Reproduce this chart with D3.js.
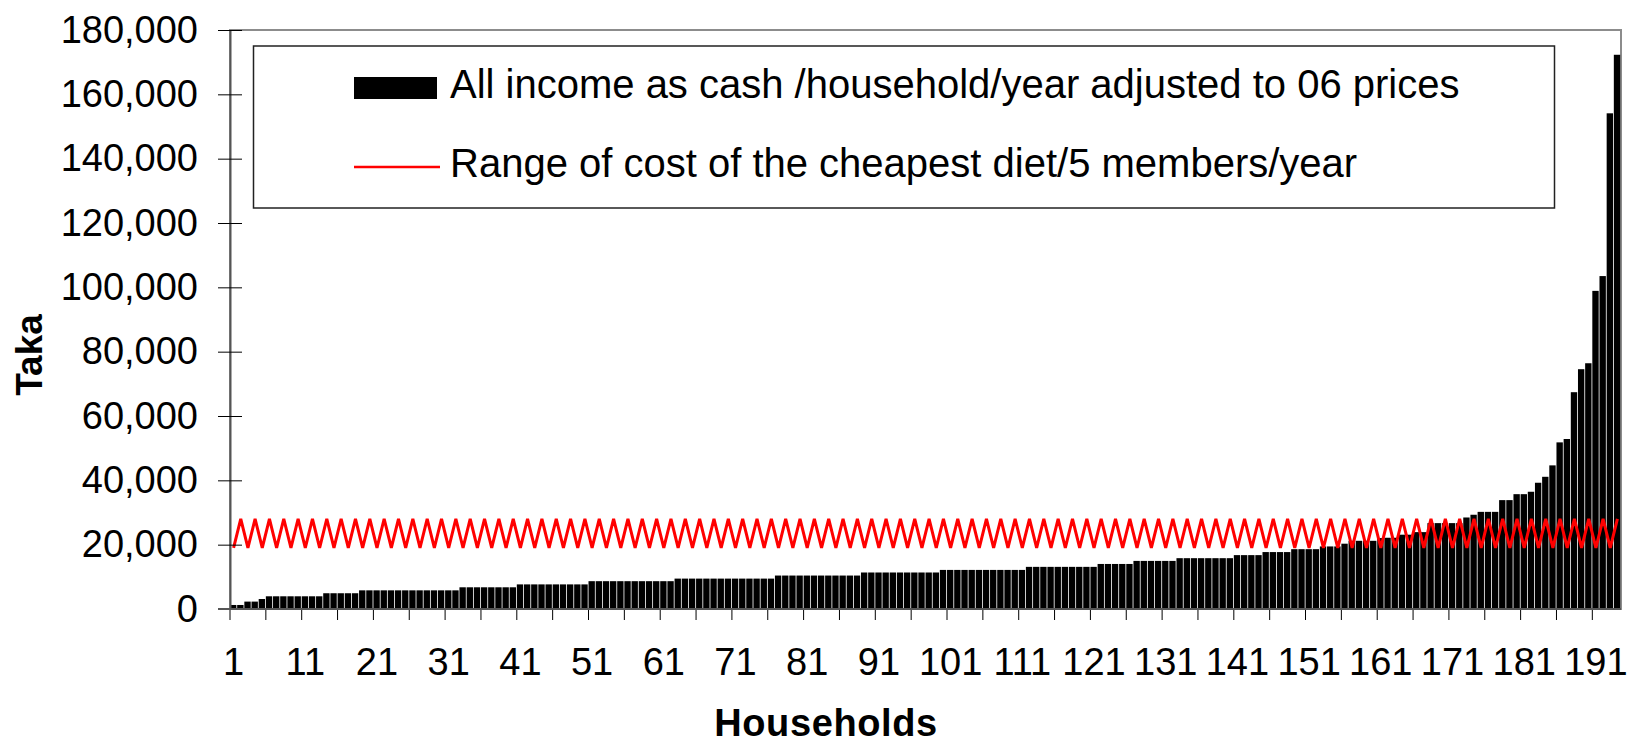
<!DOCTYPE html>
<html>
<head>
<meta charset="utf-8">
<script src="https://cdn.jsdelivr.net/npm/d3@7"></script>
<style>
  html, body { margin: 0; padding: 0; background: #fff; }
  svg { display: block; font-family: "Liberation Sans", Arial, sans-serif; }
</style>
</head>
<body>
<div id="chart"></div>
<script>
// income per household, sorted (Taka, adjusted to 06 prices)
const income = [
    1250, 1250, 2300, 2300, 3100, 3950, 3950, 3950, 3950, 3950,
    3950, 3950, 3950, 4900, 4900, 4900, 4900, 4900, 5800, 5800,
    5800, 5800, 5800, 5800, 5800, 5800, 5800, 5800, 5800, 5800,
    5800, 5800, 6750, 6750, 6750, 6750, 6750, 6750, 6750, 6750,
    7650, 7650, 7650, 7650, 7650, 7650, 7650, 7650, 7650, 7650,
    8650, 8650, 8650, 8650, 8650, 8650, 8650, 8650, 8650, 8650,
    8650, 8650, 9450, 9450, 9450, 9450, 9450, 9450, 9450, 9450,
    9450, 9450, 9450, 9450, 9450, 9450, 10400, 10400, 10400, 10400,
    10400, 10400, 10400, 10400, 10400, 10400, 10400, 10400, 11350, 11350,
    11350, 11350, 11350, 11350, 11350, 11350, 11350, 11350, 11350, 12150,
    12150, 12150, 12150, 12150, 12150, 12150, 12150, 12150, 12150, 12150,
    12150, 13100, 13100, 13100, 13100, 13100, 13100, 13100, 13100, 13100,
    13100, 14000, 14000, 14000, 14000, 14000, 14950, 14950, 14950, 14950,
    14950, 14950, 15800, 15800, 15800, 15800, 15800, 15800, 15800, 15800,
    16750, 16750, 16750, 16750, 17700, 17700, 17700, 17700, 18600, 18600,
    18600, 18600, 19450, 19450, 19450, 20300, 21200, 21200, 21200, 21200,
    22050, 22150, 22150, 23100, 23100, 23900, 23900, 26700, 26700, 26700,
    26700, 26700, 28450, 29300, 30200, 30200, 30200, 33850, 33850, 35700,
    35700, 36450, 39250, 41100, 44650, 51800, 52850, 67400, 74550, 76400,
    98900, 103500, 154100, 172300
];

// cheapest diet cost for 5 members/year, low and high ends of the range
const dietCost = [
    19000, 28000, 19000, 28000, 19000, 28000, 19000, 28000, 19000, 28000,
    19000, 28000, 19000, 28000, 19000, 28000, 19000, 28000, 19000, 28000,
    19000, 28000, 19000, 28000, 19000, 28000, 19000, 28000, 19000, 28000,
    19000, 28000, 19000, 28000, 19000, 28000, 19000, 28000, 19000, 28000,
    19000, 28000, 19000, 28000, 19000, 28000, 19000, 28000, 19000, 28000,
    19000, 28000, 19000, 28000, 19000, 28000, 19000, 28000, 19000, 28000,
    19000, 28000, 19000, 28000, 19000, 28000, 19000, 28000, 19000, 28000,
    19000, 28000, 19000, 28000, 19000, 28000, 19000, 28000, 19000, 28000,
    19000, 28000, 19000, 28000, 19000, 28000, 19000, 28000, 19000, 28000,
    19000, 28000, 19000, 28000, 19000, 28000, 19000, 28000, 19000, 28000,
    19000, 28000, 19000, 28000, 19000, 28000, 19000, 28000, 19000, 28000,
    19000, 28000, 19000, 28000, 19000, 28000, 19000, 28000, 19000, 28000,
    19000, 28000, 19000, 28000, 19000, 28000, 19000, 28000, 19000, 28000,
    19000, 28000, 19000, 28000, 19000, 28000, 19000, 28000, 19000, 28000,
    19000, 28000, 19000, 28000, 19000, 28000, 19000, 28000, 19000, 28000,
    19000, 28000, 19000, 28000, 19000, 28000, 19000, 28000, 19000, 28000,
    19000, 28000, 19000, 28000, 19000, 28000, 19000, 28000, 19000, 28000,
    19000, 28000, 19000, 28000, 19000, 28000, 19000, 28000, 19000, 28000,
    19000, 28000, 19000, 28000, 19000, 28000, 19000, 28000, 19000, 28000,
    19000, 28000, 19000, 28000
];

const yTicks = [0, 20000, 40000, 60000, 80000, 100000, 120000, 140000, 160000, 180000];
const xLabels = [1, 11, 21, 31, 41, 51, 61, 71, 81, 91, 101, 111, 121, 131, 141, 151, 161, 171, 181, 191];

const legendItems = [
    'All income as cash /household/year adjusted to 06 prices',
    'Range of cost of the cheapest diet/5 members/year'
];

const width = 1635;
const height = 746;
const plot = { left: 230, right: 1621, top: 30, bottom: 609 };

const households = income.map((d, i) => i + 1);

const xScale = d3.scaleBand()
    .domain(households)
    .range([plot.left, plot.right])
    .padding(0);
const yScale = d3.scaleLinear()
    .domain([0, 180000])
    .range([plot.bottom, plot.top]);

const svg = d3.select('#chart')
    .append('svg')
    .attr('width', width)
    .attr('height', height)
    .attr('viewBox', `0 0 ${width} ${height}`);

// plot frame (gray border on top / right)
svg.append('rect')
    .attr('x', plot.left)
    .attr('y', plot.top)
    .attr('width', plot.right - plot.left)
    .attr('height', plot.bottom - plot.top)
    .attr('fill', 'none')
    .attr('stroke', '#8c8c8c')
    .attr('stroke-width', 2);

// bars
svg.append('g')
    .attr('class', 'bars')
    .selectAll('rect')
    .data(income)
    .join('rect')
    .attr('x', (d, i) => xScale(households[i]))
    .attr('y', (d) => yScale(d))
    .attr('width', xScale.bandwidth() - 0.8)
    .attr('height', (d) => yScale(0) - yScale(d))
    .attr('fill', '#000');

// diet cost zigzag
const line = d3.line()
    .x((d, i) => xScale(households[i]) + xScale.bandwidth() / 2)
    .y((d) => yScale(d));
svg.append('path')
    .datum(dietCost)
    .attr('d', line)
    .attr('fill', 'none')
    .attr('stroke', '#ff0000')
    .attr('stroke-width', 3)
    .attr('stroke-linejoin', 'miter');

// Y axis, ticks crossing the axis line
const yAxis = d3.axisLeft(yScale)
    .tickValues(yTicks)
    .tickSizeInner(12)
    .tickSizeOuter(0)
    .tickPadding(20)
    .tickFormat(d3.format(','));
const yG = svg.append('g')
    .attr('transform', `translate(${plot.left}, 0)`)
    .call(yAxis);
yG.select('.domain').attr('stroke', '#555').attr('stroke-width', 2);
yG.selectAll('.tick line').attr('x1', 12).attr('stroke', '#000');
yG.selectAll('.tick text')
    .attr('font-size', 38)
    .attr('fill', '#000')
    .attr('font-family', '"Liberation Sans", Arial, sans-serif');

// X axis: tick marks between categories every 5, labels every 10
const tickAfter = d3.range(0, households.length, 5);
svg.append('g')
    .attr('class', 'x-ticks')
    .selectAll('line')
    .data(tickAfter)
    .join('line')
    .attr('x1', (d) => xScale(households[d]))
    .attr('x2', (d) => xScale(households[d]))
    .attr('y1', plot.bottom)
    .attr('y2', plot.bottom + 11)
    .attr('stroke', '#000')
    .attr('stroke-width', 1);

const xAxis = d3.axisBottom(xScale)
    .tickValues(xLabels)
    .tickSize(0)
    .tickSizeOuter(0);
const xG = svg.append('g')
    .attr('transform', `translate(0, ${plot.bottom})`)
    .call(xAxis);
xG.select('.domain').attr('stroke', '#555').attr('stroke-width', 2)
    .attr('d', `M${plot.left - 12},0H${plot.right}`);
xG.selectAll('.tick text')
    .attr('y', 66)
    .attr('dy', 0)
    .attr('font-size', 38)
    .attr('fill', '#000')
    .attr('font-family', '"Liberation Sans", Arial, sans-serif');

// axis titles
svg.append('text')
    .attr('x', 826)
    .attr('y', 736)
    .attr('text-anchor', 'middle')
    .attr('font-size', 38)
    .attr('font-weight', 'bold')
    .attr('letter-spacing', 0.6)
    .text('Households');
svg.append('text')
    .attr('transform', 'translate(42, 355) rotate(-90)')
    .attr('text-anchor', 'middle')
    .attr('font-size', 37)
    .attr('font-weight', 'bold')
    .text('Taka');

// legend
const legend = svg.append('g').attr('class', 'legend');
legend.append('rect')
    .attr('x', 253.5)
    .attr('y', 46)
    .attr('width', 1301)
    .attr('height', 162)
    .attr('fill', '#fff')
    .attr('stroke', '#222')
    .attr('stroke-width', 1.5);
legend.append('rect')
    .attr('x', 354)
    .attr('y', 77)
    .attr('width', 83)
    .attr('height', 22)
    .attr('fill', '#000');
legend.append('line')
    .attr('x1', 354)
    .attr('x2', 440)
    .attr('y1', 167)
    .attr('y2', 167)
    .attr('stroke', '#ff0000')
    .attr('stroke-width', 2.5);
legend.selectAll('text')
    .data(legendItems)
    .join('text')
    .attr('x', 450)
    .attr('y', (d, i) => (i === 0 ? 98 : 177))
    .attr('font-size', 40)
    .attr('fill', '#000')
    .text((d) => d);
</script>
</body>
</html>
